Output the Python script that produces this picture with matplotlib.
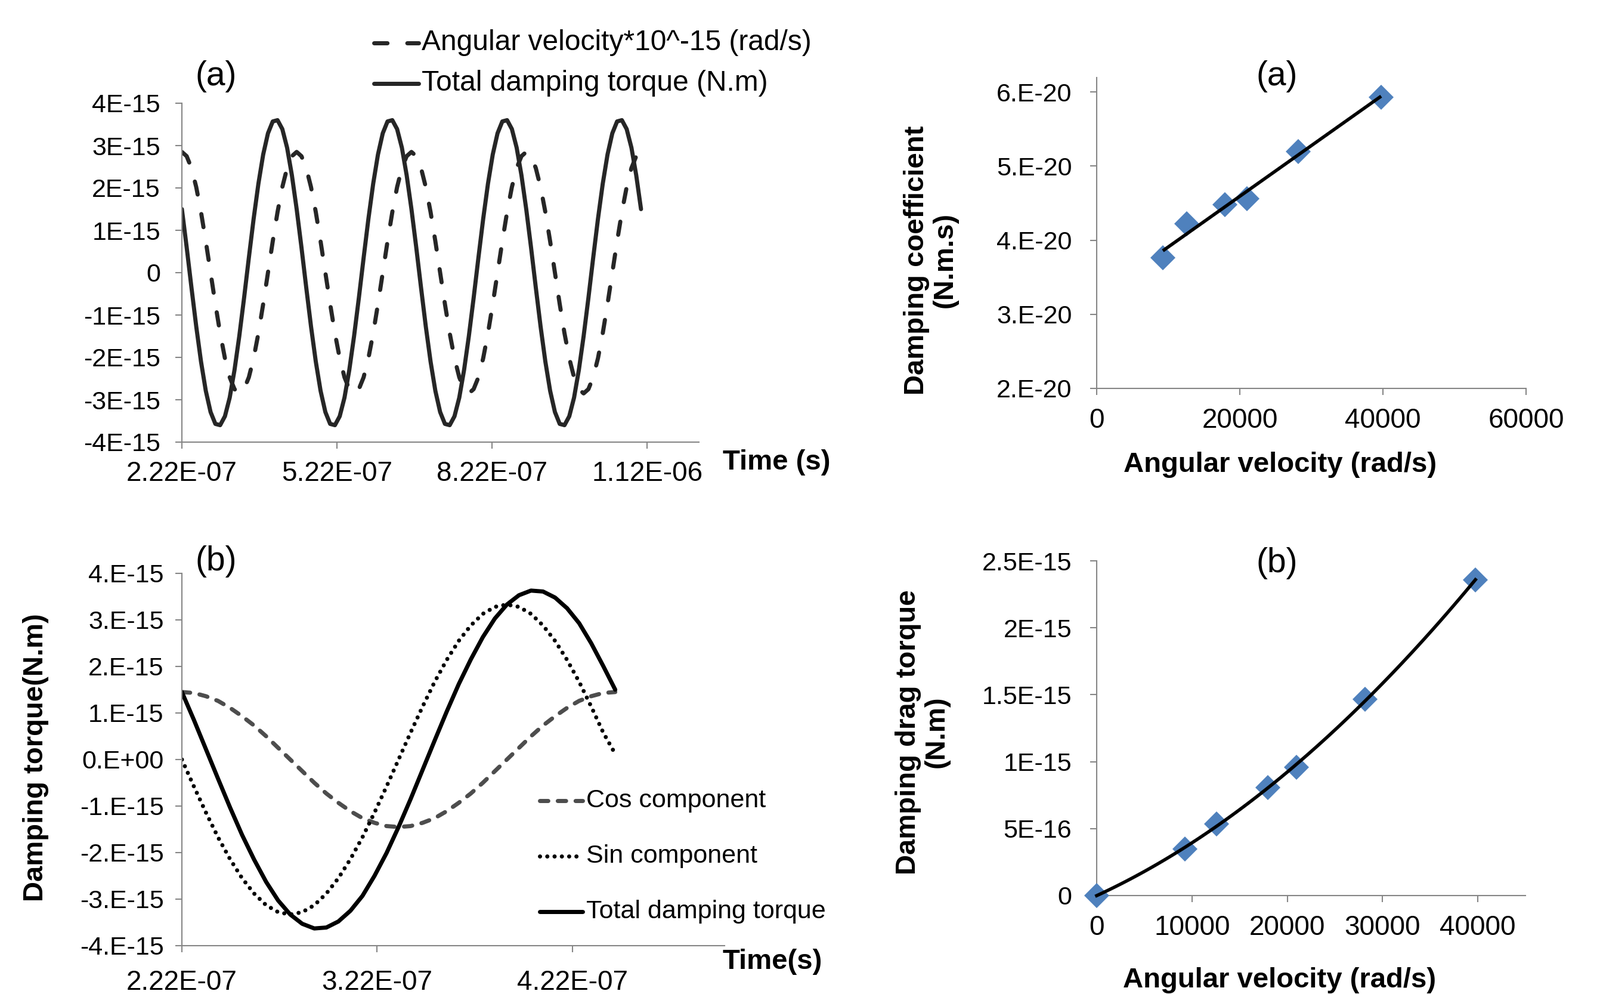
import numpy as np
import matplotlib
matplotlib.use('Agg')
import matplotlib.pyplot as plt
from matplotlib.lines import Line2D

plt.rcParams['font.family'] = ['Liberation Sans', 'DejaVu Sans']

W, H = 2683, 1666
E15 = 1e-15

# ---------------- data: panel (a) left, time series over 4 periods ----------------
time_a_start, time_a_end = 2.22e-7, 1.11e-6
torque_a = [
    1.50, 0.60, -0.35, -1.27, -2.10, -2.79, -3.29, -3.57, -3.60, -3.39, -2.95, -2.30,
    -1.50, -0.60, 0.35, 1.27, 2.10, 2.79, 3.29, 3.57, 3.60, 3.39, 2.95, 2.30,
    1.50, 0.60, -0.35, -1.27, -2.10, -2.79, -3.29, -3.57, -3.60, -3.39, -2.95, -2.30,
    -1.50, -0.60, 0.35, 1.27, 2.10, 2.79, 3.29, 3.57, 3.60, 3.39, 2.95, 2.30,
    1.50, 0.60, -0.35, -1.27, -2.10, -2.79, -3.29, -3.57, -3.60, -3.39, -2.95, -2.30,
    -1.50, -0.60, 0.35, 1.27, 2.10, 2.79, 3.29, 3.57, 3.60, 3.39, 2.95, 2.30,
    1.50, 0.60, -0.35, -1.27, -2.10, -2.79, -3.29, -3.57, -3.60, -3.39, -2.95, -2.30,
    -1.50, -0.60, 0.35, 1.27, 2.10, 2.79, 3.29, 3.57, 3.60, 3.39, 2.95, 2.30,
    1.50]
omega_a = [
    2.85, 2.75, 2.47, 2.02, 1.43, 0.74, 0.00, -0.74, -1.43, -2.02, -2.47, -2.75,
    -2.85, -2.75, -2.47, -2.02, -1.43, -0.74, 0.00, 0.74, 1.43, 2.02, 2.47, 2.75,
    2.85, 2.75, 2.47, 2.02, 1.43, 0.74, 0.00, -0.74, -1.43, -2.02, -2.47, -2.75,
    -2.85, -2.75, -2.47, -2.02, -1.43, -0.74, 0.00, 0.74, 1.43, 2.02, 2.47, 2.75,
    2.85, 2.75, 2.47, 2.02, 1.43, 0.74, 0.00, -0.74, -1.43, -2.02, -2.47, -2.75,
    -2.85, -2.75, -2.47, -2.02, -1.43, -0.74, 0.00, 0.74, 1.43, 2.02, 2.47, 2.75,
    2.85, 2.75, 2.47, 2.02, 1.43, 0.74, 0.00, -0.74, -1.43, -2.02, -2.47, -2.75,
    -2.85, -2.75, -2.47, -2.02, -1.43, -0.74, 0.00, 0.74, 1.43, 2.02, 2.47, 2.75,
    2.85]
xticks_a = [2.22e-7, 5.22e-7, 8.22e-7, 1.122e-6]
xticklabels_a = ['2.22E-07', '5.22E-07', '8.22E-07', '1.12E-06']
yticks_a = [4, 3, 2, 1, 0, -1, -2, -3, -4]
yticklabels_a = ['4E-15', '3E-15', '2E-15', '1E-15', '0', '-1E-15', '-2E-15', '-3E-15', '-4E-15']

# ---------------- data: panel (b) left, one period ----------------
time_b_start, time_b_end = 2.22e-7, 4.44e-7
cos_comp = [1.45, 1.43, 1.36, 1.26, 1.11, 0.93, 0.73, 0.50, 0.25, 0.00, -0.25, -0.50,
            -0.73, -0.93, -1.11, -1.26, -1.36, -1.43, -1.45, -1.43, -1.36, -1.26, -1.11, -0.93,
            -0.73, -0.50, -0.25, 0.00, 0.25, 0.50, 0.73, 0.93, 1.11, 1.26, 1.36, 1.43, 1.45]
sin_comp = [0.00, -0.58, -1.14, -1.67, -2.14, -2.55, -2.88, -3.13, -3.28, -3.33, -3.28, -3.13,
            -2.88, -2.55, -2.14, -1.67, -1.14, -0.58, 0.00, 0.58, 1.14, 1.67, 2.14, 2.55,
            2.88, 3.13, 3.28, 3.33, 3.28, 3.13, 2.88, 2.55, 2.14, 1.67, 1.14, 0.58, 0.12]
total_comp = [1.45, 0.85, 0.22, -0.41, -1.03, -1.62, -2.15, -2.63, -3.03, -3.33, -3.53, -3.63,
              -3.61, -3.48, -3.25, -2.93, -2.50, -2.01, -1.45, -0.85, -0.22, 0.41, 1.03, 1.62,
              2.15, 2.63, 3.03, 3.33, 3.53, 3.63, 3.61, 3.48, 3.25, 2.93, 2.50, 2.01, 1.50]
xticks_b = [2.22e-7, 3.22e-7, 4.22e-7]
xticklabels_b = ['2.22E-07', '3.22E-07', '4.22E-07']
yticks_b = [4, 3, 2, 1, 0, -1, -2, -3, -4]
yticklabels_b = ['4.E-15', '3.E-15', '2.E-15', '1.E-15', '0.E+00', '-1.E-15', '-2.E-15', '-3.E-15', '-4.E-15']

# ---------------- data: right panels ----------------
ang_vel = [9250, 12550, 17950, 20970, 28150, 39750]
damp_coef = [3.76e-20, 4.22e-20, 4.48e-20, 4.56e-20, 5.20e-20, 5.93e-20]
ang_vel_b = [0, 9250, 12550, 17950, 20970, 28150, 39750]
drag_torque = [0.0, 3.48e-16, 5.35e-16, 8.08e-16, 9.57e-16, 1.465e-15, 2.357e-15]
xticks_c = [0, 20000, 40000, 60000]
xticklabels_c = ['0', '20000', '40000', '60000']
yticks_c = [2e-20, 3e-20, 4e-20, 5e-20, 6e-20]
yticklabels_c = ['2.E-20', '3.E-20', '4.E-20', '5.E-20', '6.E-20']
xticks_d = [0, 10000, 20000, 30000, 40000]
xticklabels_d = ['0', '10000', '20000', '30000', '40000']
yticks_d = [0, 5e-16, 1e-15, 1.5e-15, 2e-15, 2.5e-15]
yticklabels_d = ['0', '5E-16', '1E-15', '1.5E-15', '2E-15', '2.5E-15']

# ---------------- styling ----------------
SPINE = '#868686'
DARK = '#262626'
BLUE = '#4F81BD'
YTICK_FS = 31
XTICK_FS = 33
BOLD_FS = 34
LETTER_FS = 41

fig = plt.figure(figsize=(W / 100, H / 100), dpi=100)


def fx(x):
    return x / W


def fy(y):
    return 1 - y / H


def axes_px(left, top, right, bottom):
    return fig.add_axes([fx(left), fy(bottom), (right - left) / W, (bottom - top) / H])


def style(ax, xpad, ypad):
    for s in ['top', 'right']:
        ax.spines[s].set_visible(False)
    for s in ['left', 'bottom']:
        ax.spines[s].set_color(SPINE)
        ax.spines[s].set_linewidth(1.5)
    ax.tick_params(axis='both', direction='out', length=8, width=1.5, color=SPINE,
                   labelcolor='black')
    ax.tick_params(axis='x', pad=xpad, labelsize=XTICK_FS)
    ax.tick_params(axis='y', pad=ypad, labelsize=YTICK_FS)
    ax.set_facecolor('none')


# ---- top-left ----
ax1 = axes_px(305, 173, 1172, 741)
t_a = np.linspace(time_a_start, time_a_end, len(torque_a))
ax1.plot(t_a, np.array(omega_a) * E15, color=DARK, lw=5, linestyle=(0, (3.2, 4.8)),
         dash_capstyle='round', solid_capstyle='round')
ax1.plot(t_a, np.array(torque_a) * E15, color=DARK, lw=5, solid_capstyle='round',
         solid_joinstyle='round')
ax1.set_xlim(2.22e-7, 1.222e-6)
ax1.set_ylim(-4e-15, 4e-15)
ax1.set_xticks(xticks_a)
ax1.set_xticklabels(xticklabels_a)
ax1.set_yticks(np.array(yticks_a) * E15)
ax1.set_yticklabels(yticklabels_a)
style(ax1, 14, 18)

# ---- bottom-left ----
ax2 = axes_px(305, 961, 1215, 1585)
t_b = np.linspace(time_b_start, time_b_end, len(cos_comp))
ax2.plot(t_b, np.array(cos_comp) * E15, color='#4d4d4d', lw=5, linestyle=(0, (2.0, 2.3)),
         dash_capstyle='round')
ax2.plot(t_b, np.array(sin_comp) * E15, color='black', lw=5, linestyle=(0, (0.01, 1.75)),
         dash_capstyle='round')
ax2.plot(t_b, np.array(total_comp) * E15, color='black', lw=5, solid_capstyle='round',
         solid_joinstyle='round')
ax2.set_xlim(2.22e-7, 5.0e-7)
ax2.set_ylim(-4e-15, 4e-15)
ax2.set_xticks(xticks_b)
ax2.set_xticklabels(xticklabels_b)
ax2.set_yticks(np.array(yticks_b) * E15)
ax2.set_yticklabels(yticklabels_b)
style(ax2, 21, 14)

# ---- top-right ----
ax3 = axes_px(1839, 129.5, 2559, 651)
ax3.plot(ang_vel, damp_coef, linestyle='none', marker='D', ms=21, color=BLUE, mew=0,
         zorder=3, clip_on=False)
coef = np.polyfit(ang_vel, damp_coef, 1)
xf = np.linspace(min(ang_vel), max(ang_vel), 50)
ax3.plot(xf, np.polyval(coef, xf), color='black', lw=4, zorder=4, solid_capstyle='butt')
ax3.set_xlim(0, 60000)
ax3.set_ylim(2e-20, 6.2e-20)
ax3.set_xticks(xticks_c)
ax3.set_xticklabels(xticklabels_c)
ax3.set_yticks(yticks_c)
ax3.set_yticklabels(yticklabels_c)
style(ax3, 15, 22)

# ---- bottom-right ----
ax4 = axes_px(1839, 940, 2558, 1501)
ax4.plot(ang_vel_b, drag_torque, linestyle='none', marker='D', ms=21, color=BLUE, mew=0,
         zorder=3, clip_on=False)
coef2 = np.polyfit(ang_vel_b, drag_torque, 2)
xf2 = np.linspace(min(ang_vel_b), max(ang_vel_b), 100)
ax4.plot(xf2, np.polyval(coef2, xf2), color='black', lw=4, zorder=4, clip_on=False)
ax4.set_xlim(0, 45000)
ax4.set_ylim(0, 2.5e-15)
ax4.set_xticks(xticks_d)
ax4.set_xticklabels(xticklabels_d)
ax4.set_yticks(yticks_d)
ax4.set_yticklabels(yticklabels_d)
style(ax4, 15, 22)

# ---- legends (manual) ----
def leg_line(x0, x1, y, **kw):
    fig.add_artist(Line2D([fx(x0), fx(x1)], [fy(y), fy(y)], transform=fig.transFigure, **kw))


leg_line(627, 702, 72, color=DARK, lw=5, linestyle=(0, (3.2, 4.8)), dash_capstyle='round')
fig.text(fx(707), fy(72), 'Angular velocity*10^-15 (rad/s)', fontsize=34.5, va='center', ha='left')
leg_line(627, 702, 140, color=DARK, lw=5, solid_capstyle='round')
fig.text(fx(707), fy(140), 'Total damping torque (N.m)', fontsize=34.5, va='center', ha='left')

leg_line(905, 977, 1342, color='#4d4d4d', lw=5, linestyle=(0, (2.0, 2.3)), dash_capstyle='round')
fig.text(fx(983), fy(1342), 'Cos component', fontsize=31, va='center', ha='left')
leg_line(905, 977, 1435, color='black', lw=5, linestyle=(0, (0.01, 1.75)), dash_capstyle='round')
fig.text(fx(983), fy(1435), 'Sin component', fontsize=31, va='center', ha='left')
leg_line(905, 977, 1528, color='black', lw=5, solid_capstyle='round')
fig.text(fx(983), fy(1528), 'Total damping torque', fontsize=31, va='center', ha='left')

# ---- panel letters ----
fig.text(fx(362), fy(128), '(a)', fontsize=LETTER_FS, ha='center', va='center')
fig.text(fx(362), fy(941), '(b)', fontsize=LETTER_FS, ha='center', va='center')
fig.text(fx(2141), fy(128), '(a)', fontsize=LETTER_FS, ha='center', va='center')
fig.text(fx(2141), fy(944), '(b)', fontsize=LETTER_FS, ha='center', va='center')

# ---- axis titles ----
fig.text(fx(1302), fy(775), 'Time (s)', fontsize=BOLD_FS, fontweight='bold', ha='center', va='center')
fig.text(fx(1295), fy(1612), 'Time(s)', fontsize=BOLD_FS, fontweight='bold', ha='center', va='center')
fig.text(fx(60), fy(1270), 'Damping torque(N.m)', fontsize=BOLD_FS, fontweight='bold',
         ha='center', va='center', rotation=90)
fig.text(fx(1561), fy(436), 'Damping coefficient\n(N.m.s)', fontsize=BOLD_FS, fontweight='bold',
         ha='center', va='center', rotation=90, multialignment='center', linespacing=1.1)
fig.text(fx(2147), fy(779), 'Angular velocity (rad/s)', fontsize=BOLD_FS, fontweight='bold',
         ha='center', va='center')
fig.text(fx(1547), fy(1227), 'Damping drag torque\n(N.m)', fontsize=BOLD_FS, fontweight='bold',
         ha='center', va='center', rotation=90, multialignment='center', linespacing=1.1)
fig.text(fx(2146), fy(1643), 'Angular velocity (rad/s)', fontsize=BOLD_FS, fontweight='bold',
         ha='center', va='center')

fig.savefig('out.png', dpi=100, facecolor='white')
